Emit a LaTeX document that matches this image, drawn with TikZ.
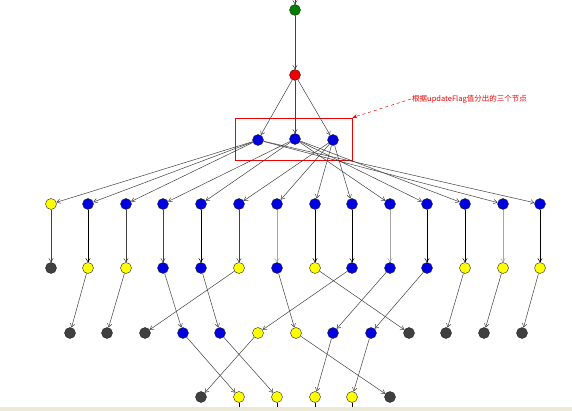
\documentclass[tikz,border=0pt]{standalone}
\usepackage{fontspec}
\newfontfamily\cjk{Noto Sans CJK SC}
\usetikzlibrary{arrows.meta}
\definecolor{cblue}{RGB}{0,0,225}
\definecolor{cyel}{RGB}{255,255,0}
\definecolor{cdark}{RGB}{64,64,64}
\definecolor{cgreen}{RGB}{0,128,0}
\definecolor{cred}{RGB}{240,0,0}
\definecolor{cbeige}{RGB}{236,233,216}
\begin{document}
\begin{tikzpicture}[x=1pt,y=-1pt,
  vtx/.style={circle,draw=black!85,line width=0.4pt,minimum size=11pt,inner sep=0pt},
  blu/.style={vtx,fill=cblue},
  yel/.style={vtx,fill=cyel},
  drk/.style={vtx,fill=cdark},
  grn/.style={vtx,fill=cgreen},
  rd/.style={vtx,fill=cred},
  edge/.style={draw=black!75,line width=0.5pt,-{Straight Barb[length=3.5pt,width=4.5pt]}},
  edk/.style={edge,draw=black},
  elt/.style={edge,draw=black!35}]
\useasboundingbox (0,0) rectangle (572,411);
\fill[white] (0,0) rectangle (572,411);
\fill[cbeige] (0,407) rectangle (572,411);

% top
\node[grn] (g) at (295,10) {};
\node[rd] (r) at (295,75) {};
\node[blu] (b1) at (258,140) {};
\node[blu] (b2) at (295,139) {};
\node[blu] (b3) at (333,140) {};
\coordinate (top) at (295,-2);

% row 3
\foreach \i/\x/\c in {1/51/yel,2/88/blu,3/126/blu,4/163/blu,5/201/blu,6/239/blu,7/277/blu,8/315/blu,9/352/blu,10/390/blu,11/427/blu,12/465/blu,13/503/blu,14/540/blu}
  \node[\c] (a\i) at (\x,204) {};
% row 4
\foreach \i/\x/\c in {1/51/drk,2/88/yel,3/126/yel,4/163/blu,5/201/blu,6/239/yel,7/277/blu,8/315/yel,9/352/blu,10/390/blu,11/427/blu,12/465/yel,13/503/yel,14/540/yel}
  \node[\c] (c\i) at (\x,268) {};
% row 5
\foreach \i/\x/\c in {1/70/drk,2/107/drk,3/145/drk,4/183/blu,5/220/blu,6/258/yel,7/296/yel,8/333/blu,9/371/blu,10/409/drk,11/446/drk,12/484/drk,13/522/drk}
  \node[\c] (d\i) at (\x,333) {};
% row 6
\foreach \i/\x/\c in {1/201/drk,2/239/yel,3/277/yel,4/315/yel,5/352/yel,6/390/drk}
  \node[\c] (e\i) at (\x,397) {};
\foreach \i/\x in {2/239,3/277,4/315,5/352}
  \coordinate (s\i) at (\x,407);

% annotation
\node[draw=cred,line width=0.6pt,minimum width=117pt,minimum height=42pt,inner sep=0pt] (box) at (293.5,139) {};
\node[text=cred,font=\cjk\fontsize{7.5}{9}\selectfont,anchor=west,inner sep=1pt] (lab) at (411,99) {根据updateFlag值分出的三个节点};
\draw[cred,dashed,line width=0.5pt,-{Stealth[length=5pt,width=4pt]}] (lab.west) -- (box.north east);

% edges
\draw[edge] (top) -- (g);
\draw[edge] (g) -- (r);
\foreach \t in {b1,b2,b3} \draw[edge] (r) -- (\t);
\foreach \t in {a1,a2,a3,a13,a14} \draw[edge] (b1) -- (\t);
\foreach \t in {a4,a5,a10,a11,a12} \draw[edge] (b2) -- (\t);
\foreach \t in {a6,a7,a8,a9} \draw[edge] (b3) -- (\t);
\foreach \i/\s in {1/edge,2/edk,3/edge,4/edge,5/edk,6/edge,7/elt,8/edk,9/edk,10/elt,11/edk,12/edk,13/elt,14/edk}
  \draw[\s] (a\i) -- (c\i);
\foreach \s/\t in {c2/d1,c3/d2,c4/d4,c5/d5,c6/d3,c7/d7,c8/d10,c9/d6,c10/d8,c11/d9,c12/d11,c13/d12,c14/d13}
  \draw[edge] (\s) -- (\t);
\foreach \s/\t in {d4/e2,d5/e3,d6/e1,d7/e6,d8/e4,d9/e5}
  \draw[edge] (\s) -- (\t);
\foreach \i in {2,3,4,5}
  \draw[black,line width=0.5pt] (e\i) -- (s\i);
\end{tikzpicture}
\end{document}
